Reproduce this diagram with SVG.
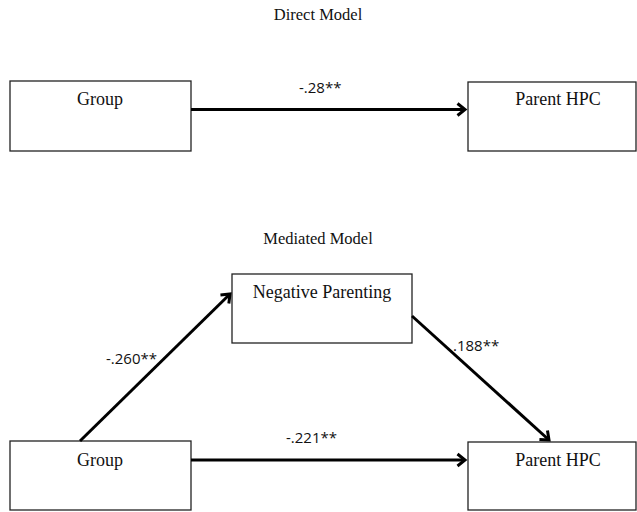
<svg xmlns="http://www.w3.org/2000/svg" width="637" height="512" viewBox="0 0 637 512">
<style>
.box{fill:#fff;stroke:#222;stroke-width:1.3}
.lbl{font-family:"Liberation Serif","Times New Roman",serif;font-size:18px;fill:#111;text-anchor:middle}
.ttl{font-family:"Liberation Serif","Times New Roman",serif;font-size:16.5px;fill:#111;text-anchor:middle}
.num{font-family:"Open Sans","Liberation Sans",sans-serif;font-size:15px;fill:#111}
.arr{stroke:#000;stroke-width:3;fill:none;marker-end:url(#ah)}
</style>
<defs>
<marker id="ah" markerWidth="10" markerHeight="10" refX="7.5" refY="5" orient="auto" markerUnits="userSpaceOnUse" viewBox="0 0 10 10" overflow="visible">
<path d="M0,-1 L7.5,5 L0,11" fill="none" stroke="#000" stroke-width="3" stroke-linejoin="miter"/>
</marker>
</defs>
<rect width="637" height="512" fill="#fff"/>
<text class="ttl" x="318" y="20">Direct Model</text>
<text class="ttl" x="318" y="244">Mediated Model</text>
<g id="group1"><rect class="box" x="10" y="81" width="181" height="70"/><text class="lbl" x="100" y="105">Group</text></g>
<g id="hpc1"><rect class="box" x="468" y="82" width="168" height="69"/><text class="lbl" x="558" y="105">Parent HPC</text></g>
<g id="negpar"><rect class="box" x="232" y="274" width="180" height="69"/><text class="lbl" x="322" y="298">Negative Parenting</text></g>
<g id="group2"><rect class="box" x="10" y="441" width="181" height="69"/><text class="lbl" x="100" y="466">Group</text></g>
<g id="hpc2"><rect class="box" x="468" y="442" width="168" height="68"/><text class="lbl" x="558" y="466">Parent HPC</text></g>
<g id="connectors">
<line class="arr" x1="191" y1="109.5" x2="465" y2="109.5"/>
<line class="arr" x1="80" y1="441" x2="230" y2="294"/>
<line class="arr" x1="412" y1="316" x2="549" y2="440"/>
<line class="arr" x1="191" y1="460" x2="465" y2="460"/>
<text class="num" x="299" y="93">-.28**</text>
<text class="num" x="106" y="364">-.260**</text>
<text class="num" x="453" y="351">.188**</text>
<text class="num" x="286" y="443">-.221**</text>
</g>
</svg>
